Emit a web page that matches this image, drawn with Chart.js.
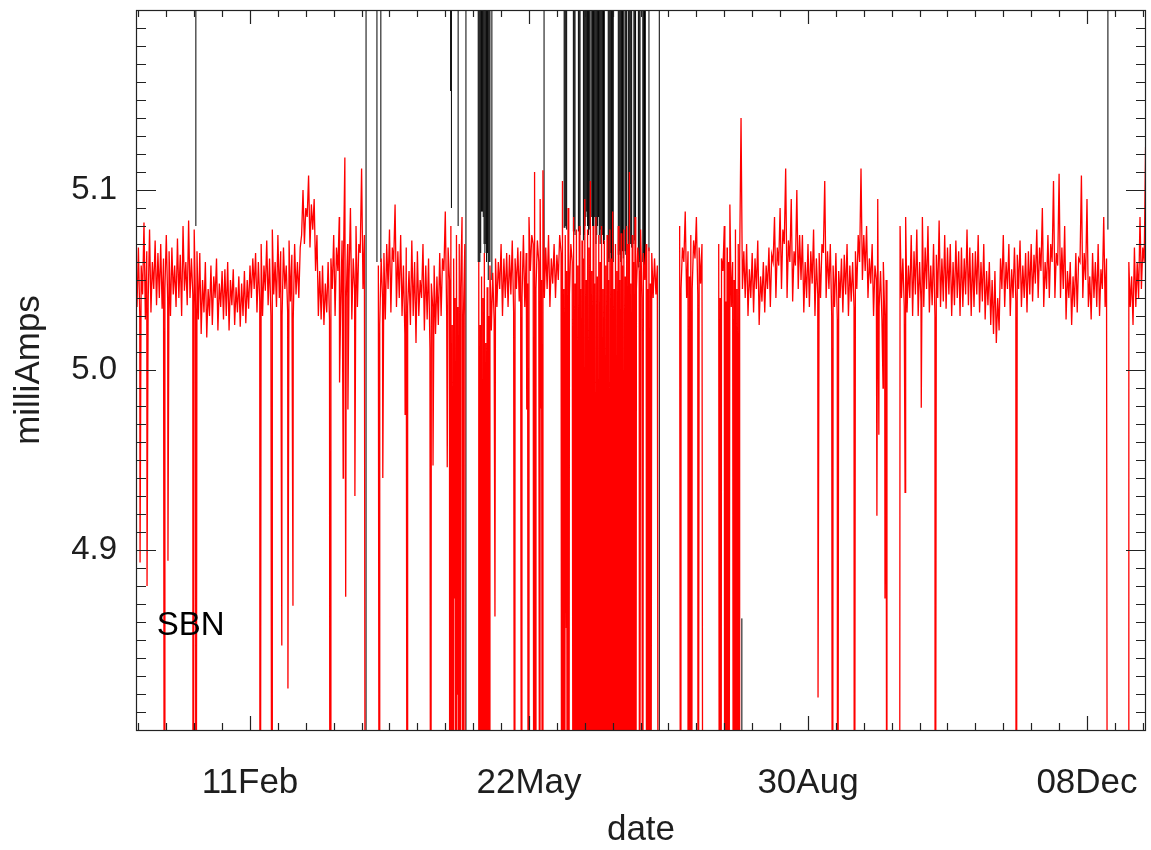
<!DOCTYPE html>
<html>
<head>
<meta charset="utf-8">
<title>SBN milliAmps</title>
<script src="https://cdn.jsdelivr.net/npm/chart.js@4.4.1/dist/chart.umd.min.js"></script>
<style>
  html, body { margin: 0; padding: 0; background: #fff; }
  #wrap { width: 1151px; height: 850px; position: relative; }
</style>
</head>
<body>
<div id="wrap"><canvas id="chart"></canvas></div>
<script>
// x = day of year (0 = 01 Jan)
const tickDays = [41, 141, 241, 341];
const tickLabels = ["11Feb", "22May", "30Aug", "08Dec"];
const yTicks = [4.9, 5.0, 5.1];

// SBN current, daily ripple peaks, day 0..362 (null = no data)
const redValues = [
  5.062, 5.068, 5.058, 5.082, 5.066, 5.078, 5.060, 5.072, 5.065, 5.070,
  5.062, 5.075, 5.066, 5.068, 5.058, 5.073, 5.064, 5.080, 5.060, 5.083,
  5.062, 5.078, 5.066, 5.065, 5.050, 5.060, 5.045, 5.058, 5.052, 5.062,
  5.048, 5.055, 5.056, 5.060, 5.050, 5.056, 5.046, 5.052, 5.048, 5.055,
  5.050, 5.058, 5.062, 5.065, 5.060, 5.070, 5.058, 5.072, 5.062, 5.078,
  5.060, 5.075, 5.066, 5.068, 5.058, 5.072, 5.064, 5.070, 5.060, 5.068,
  5.100, 5.090, 5.108, 5.092, 5.095, 5.075, 5.055, 5.058, 5.048, 5.060,
  5.062, 5.075, 5.068, 5.085, 5.072, 5.118, 5.070, 5.090, 5.062, 5.080,
  5.070, 5.112, 5.075, null, null, null, null, 5.058, 5.062, 5.065,
  5.070, 5.078, 5.068, 5.092, 5.066, 5.075, 5.058, 5.068, 5.055, 5.072,
  5.060, 5.066, 5.050, 5.070, 5.058, 5.062, 5.048, 5.058, 5.052, 5.065,
  5.062, 5.088, 5.068, 5.080, 5.062, 5.075, 5.070, 5.085, 5.070, null,
  null, null, null, 5.060, 5.052, 5.065, 5.046, 5.058, 5.054, 5.062,
  5.060, 5.070, 5.062, 5.065, 5.064, 5.072, 5.062, 5.068, 5.066, 5.075,
  5.065, 5.085, 5.075, 5.110, 5.072, 5.095, 5.111, 5.068, 5.075, 5.062,
  5.070, 5.064, 5.075, 5.105, 5.075, 5.090, 5.070, 5.085, 5.078, 5.080,
  5.072, 5.095, 5.078, 5.105, 5.080, 5.085, 5.075, 5.080, 5.072, 5.075,
  5.078, 5.088, 5.070, 5.080, 5.076, 5.078, 5.080, 5.110, 5.075, 5.085,
  5.068, 5.078, 5.065, 5.070, 5.068, 5.065, 5.062, 5.058, null, null,
  null, null, null, null, null, 5.080, 5.068, 5.088, 5.066, 5.075,
  5.072, 5.085, 5.068, 5.070, null, null, null, null, null, 5.070,
  5.062, 5.080, 5.068, 5.092, 5.060, 5.078, 5.070, 5.140, 5.066, 5.070,
  5.056, 5.065, 5.062, 5.072, 5.052, 5.060, 5.058, 5.068, 5.064, 5.085,
  5.068, 5.090, 5.078, 5.112, 5.072, 5.095, 5.066, 5.100, 5.075, 5.075,
  5.060, 5.070, 5.066, 5.078, 5.062, 5.065, 5.070, 5.105, 5.066, 5.070,
  5.058, 5.065, 5.055, 5.062, 5.064, 5.070, 5.058, 5.060, 5.066, 5.075,
  5.112, 5.075, 5.080, 5.062, 5.070, 5.058, 5.095, 5.055, 5.060, 5.050,
  null, null, null, null, 5.080, 5.062, 5.085, 5.058, 5.075, 5.066,
  5.078, 5.060, 5.085, 5.068, 5.080, 5.058, 5.070, 5.064, 5.083, 5.062,
  5.075, 5.068, 5.070, 5.060, 5.072, 5.066, 5.068, 5.062, 5.078, 5.068,
  5.065, 5.066, 5.075, 5.060, 5.070, 5.055, 5.060, 5.050, 5.055, 5.040,
  5.062, 5.075, 5.060, 5.070, 5.056, 5.068, 5.064, 5.072, 5.058, 5.065,
  5.066, 5.070, 5.064, 5.078, 5.068, 5.090, 5.060, 5.075, 5.070, 5.105,
  5.065, 5.109, 5.068, 5.080, 5.055, 5.060, 5.052, 5.065, 5.062, 5.108,
  5.065, 5.095, 5.052, 5.065, 5.060, 5.070, 5.056, 5.085, 5.062, null,
  null, null, null, null, null, null, 5.060, 5.052, 5.068, 5.060,
  5.085, 5.068, 5.124
];

// SBN current, mid-day ripple troughs, day 0.5..361.5
const midValues = [
  5.035, 5.030, 5.042, 5.028, 5.038, 5.032, 5.045, 5.036, 5.040, 5.034,
  5.045, 5.038, 5.030, 5.042, 5.035, 5.040, 5.030, 5.044, 5.036, 5.040,
  5.042, 5.034, 5.028, 5.020, 5.032, 5.018, 5.030, 5.025, 5.040, 5.022,
  5.035, 5.028, 5.030, 5.022, 5.036, 5.025, 5.032, 5.024, 5.030, 5.026,
  5.034, 5.040, 5.045, 5.032, 5.038, 5.030, 5.044, 5.036, 5.030, 5.042,
  5.035, 5.040, 5.030, 5.045, 5.032, 5.038, 5.028, 5.042, 5.040, 5.075,
  5.070, 5.085, 5.068, 5.078, 5.055, 5.030, 5.028, 5.025, 5.032, 5.028,
  5.045, 5.030, 5.055, 5.035, 5.060, 5.040, 5.050, 5.028, 5.045, 5.035,
  5.065, 5.045, null, null, null, null, null, 5.025, 5.040, 5.028,
  5.045, 5.032, 5.060, 5.035, 5.040, 5.030, 5.020, 5.035, 5.025, 5.030,
  5.015, 5.030, 5.040, 5.022, 5.028, 5.012, 5.035, 5.020, 5.025, 5.030,
  5.055, 5.030, 5.050, 5.025, 5.040, 5.035, 5.045, 5.030, null, null,
  null, null, null, 5.025, 5.040, 5.015, 5.030, 5.022, 5.028, 5.035,
  5.045, 5.030, 5.040, 5.035, 5.042, 5.032, 5.045, 5.038, 5.040, 5.035,
  5.048, 5.055, 5.070, 5.045, 5.060, 5.050, 5.040, 5.045, 5.035, 5.048,
  5.040, 5.050, 5.065, 5.045, 5.055, 5.042, 5.060, 5.048, 5.058, 5.045,
  5.062, 5.050, 5.068, 5.055, 5.048, 5.052, 5.060, 5.045, 5.058, 5.050,
  5.062, 5.045, 5.055, 5.050, 5.058, 5.052, 5.070, 5.048, 5.060, 5.045,
  5.055, 5.040, 5.050, 5.045, 5.048, 5.040, 5.042, null, null, null,
  null, null, null, null, null, 5.045, 5.060, 5.040, 5.052, 5.045,
  5.062, 5.042, 5.048, null, null, null, null, null, null, 5.040,
  5.055, 5.038, 5.060, 5.035, 5.050, 5.045, 5.060, 5.045, 5.040, 5.030,
  5.040, 5.032, 5.045, 5.025, 5.038, 5.032, 5.045, 5.035, 5.060, 5.040,
  5.058, 5.045, 5.070, 5.040, 5.060, 5.038, 5.058, 5.045, 5.050, 5.032,
  5.040, 5.035, 5.048, 5.030, 5.042, 5.040, 5.065, 5.040, 5.045, 5.030,
  5.035, 5.028, 5.040, 5.032, 5.042, 5.030, 5.038, 5.035, 5.045, 5.060,
  5.050, 5.055, 5.040, 5.048, 5.030, 5.050, 5.035, 5.028, 5.030, null,
  null, null, null, null, 5.040, 5.035, 5.032, 5.040, 5.030, 5.042,
  5.030, 5.038, 5.035, 5.045, 5.032, 5.036, 5.030, 5.040, 5.035, 5.038,
  5.034, 5.042, 5.030, 5.036, 5.040, 5.030, 5.035, 5.042, 5.036, 5.030,
  5.035, 5.042, 5.032, 5.038, 5.028, 5.036, 5.025, 5.020, 5.015, 5.022,
  5.045, 5.035, 5.045, 5.030, 5.040, 5.038, 5.045, 5.035, 5.040, 5.032,
  5.042, 5.038, 5.048, 5.040, 5.055, 5.035, 5.045, 5.040, 5.060, 5.040,
  5.058, 5.040, 5.045, 5.028, 5.040, 5.025, 5.035, 5.032, 5.060, 5.040,
  5.050, 5.035, 5.028, 5.040, 5.035, 5.030, 5.045, 5.035, null, null,
  null, null, null, null, null, null, 5.035, 5.025, 5.035, 5.040,
  5.045, 5.060
];

// dropouts between the samples [day, mA]
const redDrops = [
  [1.6, 4.893], [4.1, 4.880], [10.4, 4.5], [11.6, 4.894], [20.6, 4.5], [21.6, 4.5],
  [44.6, 4.5], [48.9, 4.5], [52.4, 4.847], [54.6, 4.823], [56.4, 4.869], [69.7, 4.5],
  [73.1, 4.993], [74.4, 4.94], [75.3, 4.874], [76.1, 4.978], [78.6, 4.93], [82.4, 4.5],
  [87.4, 4.5], [88.6, 4.94], [96.6, 4.975], [97.4, 4.5], [105.8, 4.5], [106.6, 4.947],
  [111.7, 4.946], [112.6, 4.5], [113.2, 4.5], [113.8, 4.5], [114.4, 4.873], [114.9, 4.5],
  [115.3, 4.82], [115.8, 4.5], [116.4, 4.5], [117.4, 4.5], [118.2, 4.5],
  [122.8, 4.5], [123.25, 4.5], [123.6, 4.5], [123.75, 4.5], [124.25, 4.5], [124.6, 4.5],
  [124.75, 4.5], [125.25, 4.5], [125.6, 4.5], [125.75, 4.5], [126.25, 4.5], [126.6, 4.5],
  [126.9, 4.5], [128.8, 4.863], [135.9, 4.5], [138.4, 4.5], [140.2, 4.978], [140.8, 4.5],
  [142.8, 4.5], [143.4, 4.5], [144.9, 4.5], [145.4, 4.979], [145.9, 4.5],
  [152.75, 4.5], [153.25, 4.5], [153.75, 4.5], [154.4, 4.857], [154.75, 4.5], [155.25, 4.5],
  [156.9, 4.5], [157.25, 4.5], [157.75, 4.5], [158.25, 4.5], [158.6, 4.94], [158.9, 4.5],
  [159.25, 4.5], [159.75, 4.5], [160.25, 4.5], [160.75, 4.5], [161.25, 4.5], [161.75, 4.5],
  [162.25, 4.5], [162.75, 4.5], [163.25, 4.5], [163.75, 4.5], [164.25, 4.5], [164.75, 4.5],
  [165.25, 4.5], [165.75, 4.5], [166.25, 4.5], [166.75, 4.5], [167.25, 4.5], [167.75, 4.5],
  [168.25, 4.5], [168.75, 4.5], [169.25, 4.5], [169.75, 4.5], [170.25, 4.5], [170.75, 4.5],
  [171.25, 4.5], [171.75, 4.5], [172.25, 4.5], [172.6, 4.96], [172.75, 4.5], [173.25, 4.5],
  [173.75, 4.5], [174.25, 4.5], [174.75, 4.5], [175.25, 4.5], [175.75, 4.5], [176.4, 4.5],
  [176.75, 4.5], [177.25, 4.5], [177.75, 4.5], [178.25, 4.5], [178.75, 4.5], [179.25, 4.5],
  [180.6, 4.5], [181.7, 4.5], [183.2, 4.5], [183.6, 4.5], [184.1, 4.5], [184.6, 4.5],
  [187.4, 4.5], [195.4, 4.5], [198.0, 4.5], [198.6, 4.5], [199.3, 4.5], [201.6, 4.5],
  [203.4, 4.5], [209.3, 4.5], [209.8, 4.5], [211.2, 4.5], [211.6, 4.5], [212.1, 4.5],
  [212.6, 4.5], [214.3, 4.5], [214.8, 4.5], [215.3, 4.5], [215.8, 4.5], [216.3, 4.5],
  [244.6, 4.818], [249.8, 4.5], [251.6, 4.5], [257.6, 4.5],
  [265.7, 4.919], [266.4, 4.964], [267.9, 4.99], [268.6, 4.873], [269.3, 4.5],
  [273.8, 4.5], [275.8, 4.932], [281.6, 4.979], [286.6, 4.5], [315.6, 4.5],
  [348.4, 4.5], [355.8, 4.5]
];

// black trace spikes [day, from mA, to mA]
const blackSpikes = [
  [21.6, 5.08, 5.5], [82.6, 4.5, 5.5], [86.5, 5.06, 5.5], [87.9, 5.06, 5.5],
  [112.9, 5.155, 5.5], [113.2, 5.09, 5.5], [115.6, 5.08, 5.5], [118.4, 4.5, 5.5],
  [122.8, 5.06, 5.5], [123.1, 5.06, 5.5], [123.4, 5.06, 5.5], [123.7, 5.065, 5.5],
  [124.0, 5.088, 5.5], [124.3, 5.088, 5.5], [124.6, 5.085, 5.5], [124.9, 5.07, 5.5],
  [125.2, 5.065, 5.5], [125.5, 5.07, 5.5], [125.8, 5.06, 5.5], [126.1, 5.065, 5.5],
  [126.4, 5.05, 5.5], [126.7, 5.06, 5.5], [127.0, 5.06, 5.5], [127.7, 5.05, 5.5],
  [146.4, 5.057, 5.5],
  [153.6, 5.079, 5.5], [153.9, 5.079, 5.5], [154.2, 5.08, 5.5], [154.5, 5.078, 5.5],
  [156.9, 5.077, 5.5], [157.2, 5.077, 5.5], [157.5, 5.075, 5.5],
  [158.7, 5.077, 5.5], [159.0, 5.077, 5.5], [159.3, 5.075, 5.5],
  [160.5, 5.072, 5.5], [160.8, 5.075, 5.5], [161.1, 5.08, 5.5], [161.4, 5.085, 5.5],
  [161.7, 5.088, 5.5], [162.0, 5.08, 5.5], [162.3, 5.075, 5.5], [162.6, 5.078, 5.5],
  [162.9, 5.08, 5.5],
  [163.5, 5.085, 5.5], [163.8, 5.08, 5.5], [164.1, 5.075, 5.5], [164.4, 5.085, 5.5],
  [164.7, 5.08, 5.5], [165.0, 5.07, 5.5], [165.3, 5.075, 5.5], [165.6, 5.08, 5.5],
  [165.9, 5.085, 5.5], [166.2, 5.075, 5.5], [166.5, 5.07, 5.5], [166.8, 5.078, 5.5],
  [167.1, 5.08, 5.5], [167.4, 5.075, 5.5], [167.7, 5.07, 5.5], [168.0, 5.072, 5.5],
  [169.4, 5.06, 5.5], [169.7, 5.062, 5.5], [170.0, 5.06, 5.5], [170.3, 5.065, 5.5],
  [170.6, 5.06, 5.5], [170.9, 5.058, 5.5], [171.2, 5.06, 5.5],
  [173.0, 5.064, 5.5], [173.3, 5.066, 5.5], [173.6, 5.064, 5.5], [173.9, 5.06, 5.5],
  [174.2, 5.064, 5.5], [174.5, 5.066, 5.5], [174.8, 5.062, 5.5],
  [175.4, 5.066, 5.5], [175.7, 5.064, 5.5], [176.0, 5.066, 5.5],
  [176.6, 5.07, 5.5], [176.9, 5.072, 5.5], [177.2, 5.07, 5.5], [177.5, 5.07, 5.5],
  [177.8, 5.068, 5.5],
  [178.6, 5.07, 5.5], [178.9, 5.072, 5.5], [179.2, 5.07, 5.5],
  [180.2, 5.057, 5.5], [180.5, 5.06, 5.5], [180.8, 5.057, 5.5],
  [181.8, 5.06, 5.5], [182.1, 5.062, 5.5], [182.4, 5.058, 5.5], [182.7, 5.06, 5.5],
  [184.0, 5.066, 5.5], [187.7, 4.5, 5.5],
  [217.3, 4.5, 4.862], [348.5, 5.078, 5.5]
];

const xMin = 0.14, xMax = 362.15;
const yMin = 4.8, yMax = 5.2;
const fontFamily = '"Liberation Sans", Helvetica, Arial, sans-serif';
const textColor = "#1e1e1e";

// red line: day samples, mid-day samples and dropouts, in time order
const redPoints = redValues.map((v, i) => ({ x: i, y: v }))
  .concat(midValues.map((v, i) => ({ x: i + 0.5, y: v })).filter(p => p.y !== null))
  .concat(redDrops.map(([d, v]) => ({ x: d, y: v })))
  .sort((a, b) => a.x - b.x);

// black: one vertical stroke per spike, broken by nulls
const blackPoints = [];
blackSpikes.forEach(([d, lo, hi]) => {
  blackPoints.push({ x: d, y: lo }, { x: d, y: hi }, { x: d, y: null });
});

// IDL style frame with inward ticks on all four sides
const idlAxes = {
  id: "idlAxes",
  afterDatasetsDraw(chart) {
    const { ctx, chartArea: a, scales: { x, y } } = chart;
    ctx.save();
    ctx.strokeStyle = "#222";
    ctx.lineWidth = 1.2;
    ctx.beginPath();
    for (let d = 1; d < xMax; d += 10) {
      const px = Math.round(x.getPixelForValue(d)) + 0.5;
      const len = tickDays.includes(d) ? 14 : 7;
      ctx.moveTo(px, a.bottom); ctx.lineTo(px, a.bottom - len);
      ctx.moveTo(px, a.top); ctx.lineTo(px, a.top + len);
    }
    for (let i = 481; i < 520; i++) {
      const py = Math.round(y.getPixelForValue(i / 100)) + 0.5;
      const len = i % 10 === 0 ? 20 : 10;
      ctx.moveTo(a.left, py); ctx.lineTo(a.left + len, py);
      ctx.moveTo(a.right, py); ctx.lineTo(a.right - len, py);
    }
    ctx.stroke();
    ctx.strokeRect(a.left + 0.5, a.top + 0.5, a.width - 1, a.height);

    ctx.fillStyle = "#000";
    ctx.font = "33px " + fontFamily;
    ctx.textAlign = "left";
    ctx.textBaseline = "alphabetic";
    ctx.fillText("SBN", x.getPixelForValue(7.6), y.getPixelForValue(4.853));
    ctx.restore();
  }
};

function noPad(s) {
  s.paddingLeft = 0; s.paddingRight = 0; s.paddingTop = 0; s.paddingBottom = 0;
}

new Chart(document.getElementById("chart"), {
  type: "line",
  data: {
    datasets: [
      {
        label: "SBN",
        data: redPoints,
        borderColor: "#ff0000",
        borderWidth: 1.3,
        pointRadius: 0,
        spanGaps: false,
        tension: 0,
        order: 0
      },
      {
        label: "raw",
        data: blackPoints,
        borderColor: "#000000",
        borderWidth: 1,
        pointRadius: 0,
        spanGaps: false,
        tension: 0,
        order: 1
      }
    ]
  },
  options: {
    responsive: true,
    maintainAspectRatio: false,
    devicePixelRatio: 1,
    animation: false,
    events: [],
    layout: { padding: { top: 10, right: 5, left: 0, bottom: 0 } },
    plugins: { legend: { display: false }, tooltip: { enabled: false } },
    scales: {
      x: {
        type: "linear",
        min: xMin,
        max: xMax,
        grid: { display: false, drawTicks: false },
        border: { display: false },
        afterBuildTicks: (s) => { s.ticks = tickDays.map(v => ({ value: v })); },
        afterFit: (s) => { s.height = 120; noPad(s); },
        ticks: {
          autoSkip: false,
          maxRotation: 0,
          padding: 32,
          color: textColor,
          font: { family: fontFamily, size: 35 },
          callback: (v) => tickLabels[tickDays.indexOf(v)]
        },
        title: {
          display: true,
          text: "date",
          color: textColor,
          font: { family: fontFamily, size: 35, lineHeight: 1.1 },
          padding: { top: 0, bottom: 0 }
        }
      },
      y: {
        min: yMin,
        max: yMax,
        grid: { display: false, drawTicks: false },
        border: { display: false },
        afterBuildTicks: (s) => { s.ticks = yTicks.map(v => ({ value: v })); },
        afterFit: (s) => { s.width = 136; noPad(s); },
        ticks: {
          padding: 19,
          color: textColor,
          font: { family: fontFamily, size: 33 },
          callback: (v) => v.toFixed(1)
        },
        title: {
          display: true,
          text: "milliAmps",
          color: textColor,
          font: { family: fontFamily, size: 35, lineHeight: 1.1 },
          padding: { top: 10, bottom: 0 }
        }
      }
    }
  },
  plugins: [idlAxes]
});
</script>
</body>
</html>
